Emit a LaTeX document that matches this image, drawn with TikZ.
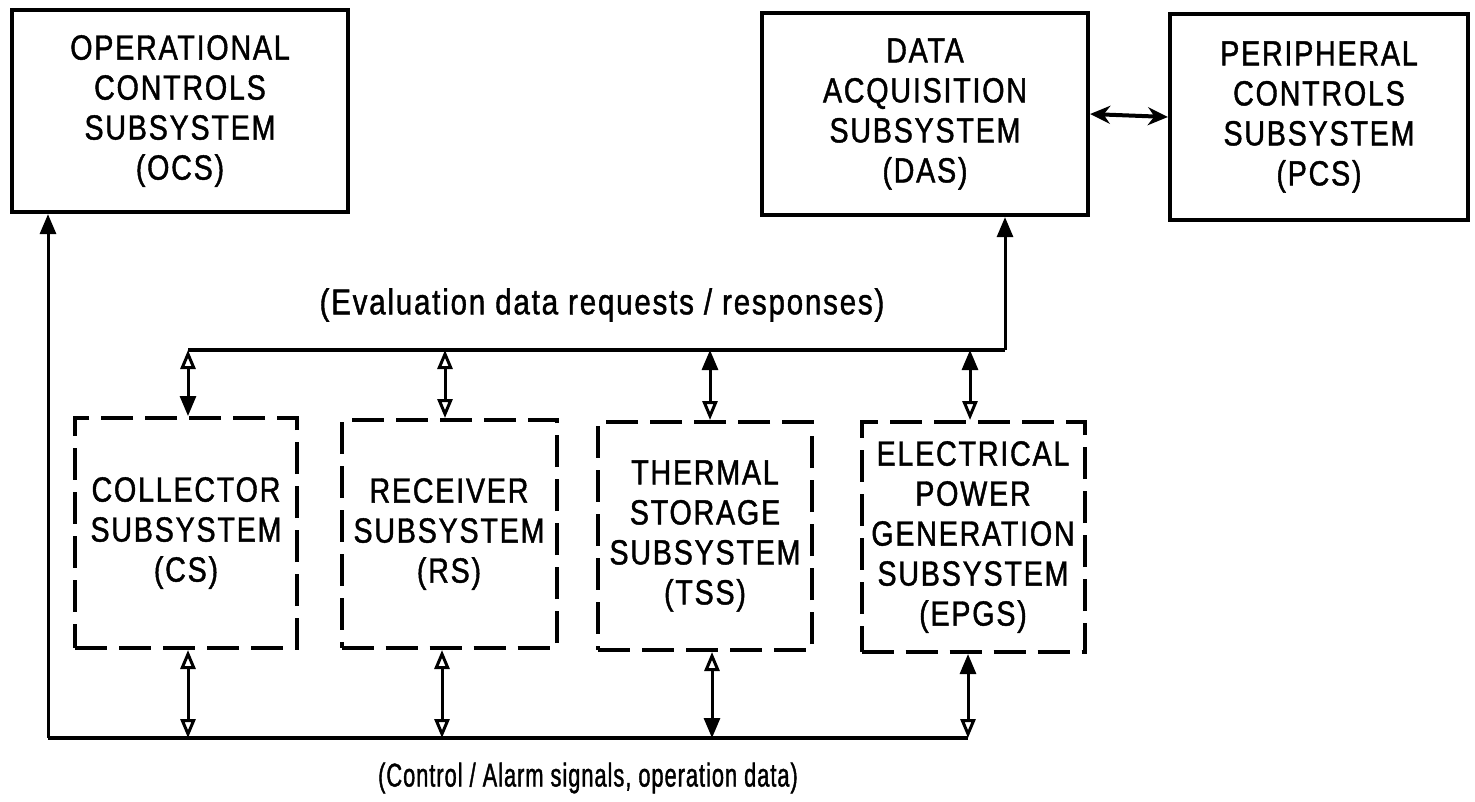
\documentclass[tikz,border=0pt]{standalone}
\usepackage{fontspec}
\setmainfont{Liberation Sans}[FakeStretch=0.82, LetterSpace=5, FakeBold=1.2]
\newfontfamily\narrowsans{Liberation Sans}[FakeStretch=0.66, LetterSpace=3, FakeBold=1.2]
\usetikzlibrary{arrows.meta,calc}
\newcommand*\sysfont{\fontsize{35}{40}\selectfont}
\newcommand*\busfont{\fontsize{36}{40}\selectfont}
\newcommand*\ctlfont{\narrowsans\fontsize{33}{40}\selectfont}
\begin{document}
\begin{tikzpicture}[x=1pt,y=-1pt,
  solidbox/.style={draw, line width=4.2pt, inner sep=0pt, align=center, font=\sysfont},
  dashbox/.style={draw, line width=4pt, dash pattern=on 32pt off 12pt, inner sep=0pt, align=center, font=\sysfont},
  bus/.style={line width=4pt, line join=miter},
  link/.style={line width=3pt},
  oh/.tip={Triangle[open, length=19pt, width=15pt]},
  fh/.tip={Triangle[length=20pt, width=16pt]},
  lbl/.style={font=\busfont, inner sep=0pt}]
\useasboundingbox (0,0) rectangle (1475,801);

% upper row: solid subsystem boxes
\node[solidbox, minimum width=336pt, minimum height=202pt] (ocs) at (180,111)
  {OPERATIONAL\\CONTROLS\\SUBSYSTEM\\(OCS)};
\node[solidbox, minimum width=326pt, minimum height=202pt] (das) at (925,114)
  {DATA\\ACQUISITION\\SUBSYSTEM\\(DAS)};
\node[solidbox, minimum width=298pt, minimum height=206pt] (pcs) at (1319,117)
  {PERIPHERAL\\CONTROLS\\SUBSYSTEM\\(PCS)};

% lower row: dashed subsystem boxes
\node[dashbox, minimum width=222pt, minimum height=230pt] (cs) at (186,533)
  {COLLECTOR\\SUBSYSTEM\\(CS)};
\node[dashbox, minimum width=215pt, minimum height=228pt] (rs) at (449,534)
  {RECEIVER\\SUBSYSTEM\\(RS)};
\node[dashbox, minimum width=214pt, minimum height=228pt] (tss) at (705,536)
  {THERMAL\\STORAGE\\SUBSYSTEM\\(TSS)};
\node[dashbox, minimum width=223pt, minimum height=230pt] (epgs) at (973,537)
  {ELECTRICAL\\POWER\\GENERATION\\SUBSYSTEM\\(EPGS)};

% DAS <-> PCS
\draw[line width=4pt, {Stealth[length=20pt,width=18pt]}-{Stealth[length=20pt,width=18pt]}] (das.east) -- (pcs.west);

% evaluation data bus
\coordinate (t1) at (188,350);
\coordinate (t2) at (445,350);
\coordinate (t3) at (710,350);
\coordinate (t4) at (970,350);
\coordinate (tr) at (1005,350);
\draw[bus] (t1) -- (tr);
\draw[link, -fh] (tr) -- (tr |- das.south);
\draw[link, oh-fh] (t1) -- (t1 |- cs.north);
\draw[link, oh-oh] (t2) -- (t2 |- rs.north);
\draw[link, fh-oh] (t3) -- (t3 |- tss.north);
\draw[link, fh-oh] (t4) -- (t4 |- epgs.north);
\node[lbl] (evl) at (602,305) {(Evaluation data requests / responses)};

% control / alarm bus
\coordinate (bl) at (48,738);
\coordinate (b1) at (188,738);
\coordinate (b2) at (442,738);
\coordinate (b3) at (712,738);
\coordinate (b4) at (968,738);
\draw[bus] (bl) -- (b4);
\draw[link, -fh] (bl) -- (bl |- ocs.south);
\draw[link, oh-oh] (b1 |- cs.south) -- (b1);
\draw[link, oh-oh] (b2 |- rs.south) -- (b2);
\draw[link, oh-fh] (b3 |- tss.south) -- (b3);
\draw[link, fh-oh] (b4 |- epgs.south) -- (b4);
\node[lbl, font=\ctlfont] (ctl) at (588,778) {(Control / Alarm signals, operation data)};
\end{tikzpicture}
\end{document}
